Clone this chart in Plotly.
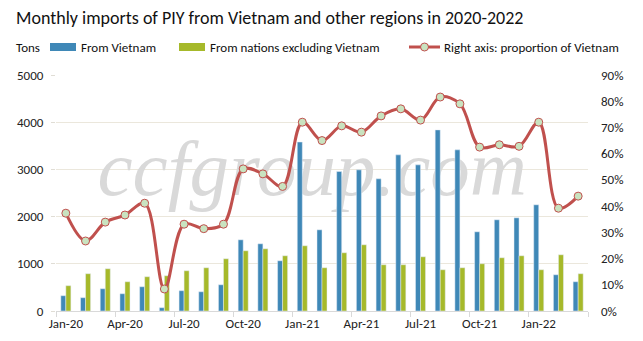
import plotly.graph_objects as go

months = ["Jan-20","Feb-20","Mar-20","Apr-20","May-20","Jun-20","Jul-20","Aug-20","Sep-20","Oct-20","Nov-20","Dec-20",
          "Jan-21","Feb-21","Mar-21","Apr-21","May-21","Jun-21","Jul-21","Aug-21","Sep-21","Oct-21","Nov-21","Dec-21",
          "Jan-22","Feb-22","Mar-22"]
from_vietnam = [324, 282, 472, 366, 514, 70, 430, 408, 556, 1508, 1424, 1064,
                3580, 1720, 2955, 2990, 2800, 3308, 3096, 3837, 3414, 1678, 1932, 1974,
                2250, 768, 620]
from_others = [536, 790, 895, 620, 726, 747, 853, 916, 1107, 1276, 1318, 1170,
               1382, 916, 1234, 1403, 980, 980, 1149, 874, 916, 1001, 1128, 1170,
               874, 1191, 790]
vn_share = [0.373, 0.267, 0.339, 0.366, 0.411, 0.084, 0.331, 0.314, 0.331, 0.542, 0.523, 0.475,
            0.720, 0.650, 0.706, 0.682, 0.744, 0.771, 0.728, 0.816, 0.790, 0.625, 0.634, 0.628,
            0.720, 0.392, 0.438]

BLUE = "#3f88b7"
GREEN = "#a6b92a"
RED = "#c0504d"
MFILL = "#c9e3c0"
FONT = "Carlito, Lato, sans-serif"

L, R, T, B = 56, 588, 75, 311
W, H = 643, 341
def px(x):
    return (x - L) / (R - L)
def py(y):
    return (B - y) / (B - T)

fig = go.Figure()

# watermark (drawn first, beneath bars)
fig.add_trace(go.Scatter(x=["Jan-21"], y=[0.575], mode="text", text=["\u00a0ccfgroup.com"],
                         textposition="middle center",
                         textfont=dict(family="Liberation Serif", size=79, color="#d9d9d9", style="italic"),
                         xaxis="x", yaxis="y", hoverinfo="skip", showlegend=False))

fig.add_trace(go.Bar(x=months, y=from_vietnam, name="From Vietnam", marker_color=BLUE,
                     xaxis="x", yaxis="y2", showlegend=False))
fig.add_trace(go.Bar(x=months, y=from_others, name="From nations excluding Vietnam", marker_color=GREEN,
                     xaxis="x", yaxis="y2", showlegend=False))
fig.add_trace(go.Scatter(x=months, y=vn_share, name="Right axis: proportion of Vietnam",
                         mode="lines+markers", line=dict(color=RED, width=3, shape="spline", smoothing=1),
                         marker=dict(size=8, color=MFILL, line=dict(color=RED, width=1)),
                         xaxis="x", yaxis="y3", showlegend=False))

shapes = []
annotations = []
# title
annotations.append(dict(xref="paper", yref="paper", x=px(14), y=py(18), xanchor="left", yanchor="middle",
                        text="Monthly imports of PIY from Vietnam and other regions in 2020-2022",
                        showarrow=False, font=dict(family=FONT, size=18, color="#111")))
# legend row
LY = 47
annotations.append(dict(xref="paper", yref="paper", x=px(14), y=py(LY), xanchor="left", yanchor="middle",
                        text="Tons", showarrow=False, font=dict(family=FONT, size=13, color="#111")))
shapes.append(dict(type="rect", xref="paper", yref="paper", x0=px(50), x1=px(76), y0=py(LY - 4), y1=py(LY + 4),
                   fillcolor=BLUE, line=dict(width=0)))
annotations.append(dict(xref="paper", yref="paper", x=px(79), y=py(LY), xanchor="left", yanchor="middle",
                        text="From Vietnam", showarrow=False, font=dict(family=FONT, size=13, color="#111")))
shapes.append(dict(type="rect", xref="paper", yref="paper", x0=px(179), x1=px(205), y0=py(LY - 4), y1=py(LY + 4),
                   fillcolor=GREEN, line=dict(width=0)))
annotations.append(dict(xref="paper", yref="paper", x=px(208), y=py(LY), xanchor="left", yanchor="middle",
                        text="From nations excluding Vietnam", showarrow=False,
                        font=dict(family=FONT, size=13, color="#111")))
shapes.append(dict(type="line", xref="paper", yref="paper", x0=px(409), x1=px(440), y0=py(LY), y1=py(LY),
                   line=dict(color=RED, width=3)))
shapes.append(dict(type="circle", xref="paper", yref="paper", x0=px(420.5), x1=px(428.5), y0=py(LY - 4), y1=py(LY + 4),
                   fillcolor=MFILL, line=dict(color=RED, width=1)))
annotations.append(dict(xref="paper", yref="paper", x=px(442), y=py(LY), xanchor="left", yanchor="middle",
                        text="Right axis: proportion of Vietnam", showarrow=False,
                        font=dict(family=FONT, size=13, color="#111")))

fig.update_layout(
    width=W, height=H,
    margin=dict(l=L, r=W - R, t=T, b=H - B, pad=0, autoexpand=False),
    paper_bgcolor="white", plot_bgcolor="white",
    barmode="group", bargap=0.49, bargroupgap=0,
    font=dict(family=FONT, size=13, color="#222"),
    shapes=shapes, annotations=annotations,
    xaxis=dict(type="category", categoryorder="array", categoryarray=months,
               range=[-0.5, 26.5], tickmode="linear", tick0=0, dtick=3, tickangle=0, automargin=False,
               tickson="boundaries", ticks="outside", ticklen=5, tickcolor="#d9d9d9",
               showline=True, linecolor="#d9d9d9", linewidth=1, showgrid=False,
               tickfont=dict(family=FONT, size=13, color="#222")),
    yaxis=dict(range=[0, 1], visible=False, fixedrange=True, automargin=False),
    yaxis2=dict(overlaying="y", side="left", range=[0, 5000], dtick=1000, tickmode="linear", automargin=False,
                showgrid=True, gridcolor="#ebe7dc", gridwidth=1, zeroline=False,
                ticks="outside", ticklen=4, tickcolor="#e0ddd5", ticklabelstandoff=5,
                tickfont=dict(family=FONT, size=13, color="#222")),
    yaxis3=dict(overlaying="y", side="right", range=[0, 0.9], dtick=0.1, tickmode="linear", automargin=False,
                tickformat=".0%", showgrid=False, zeroline=False, ticks="", ticklabelstandoff=12,
                tickfont=dict(family=FONT, size=13, color="#222")),
)

fig.write_html("out.html")
